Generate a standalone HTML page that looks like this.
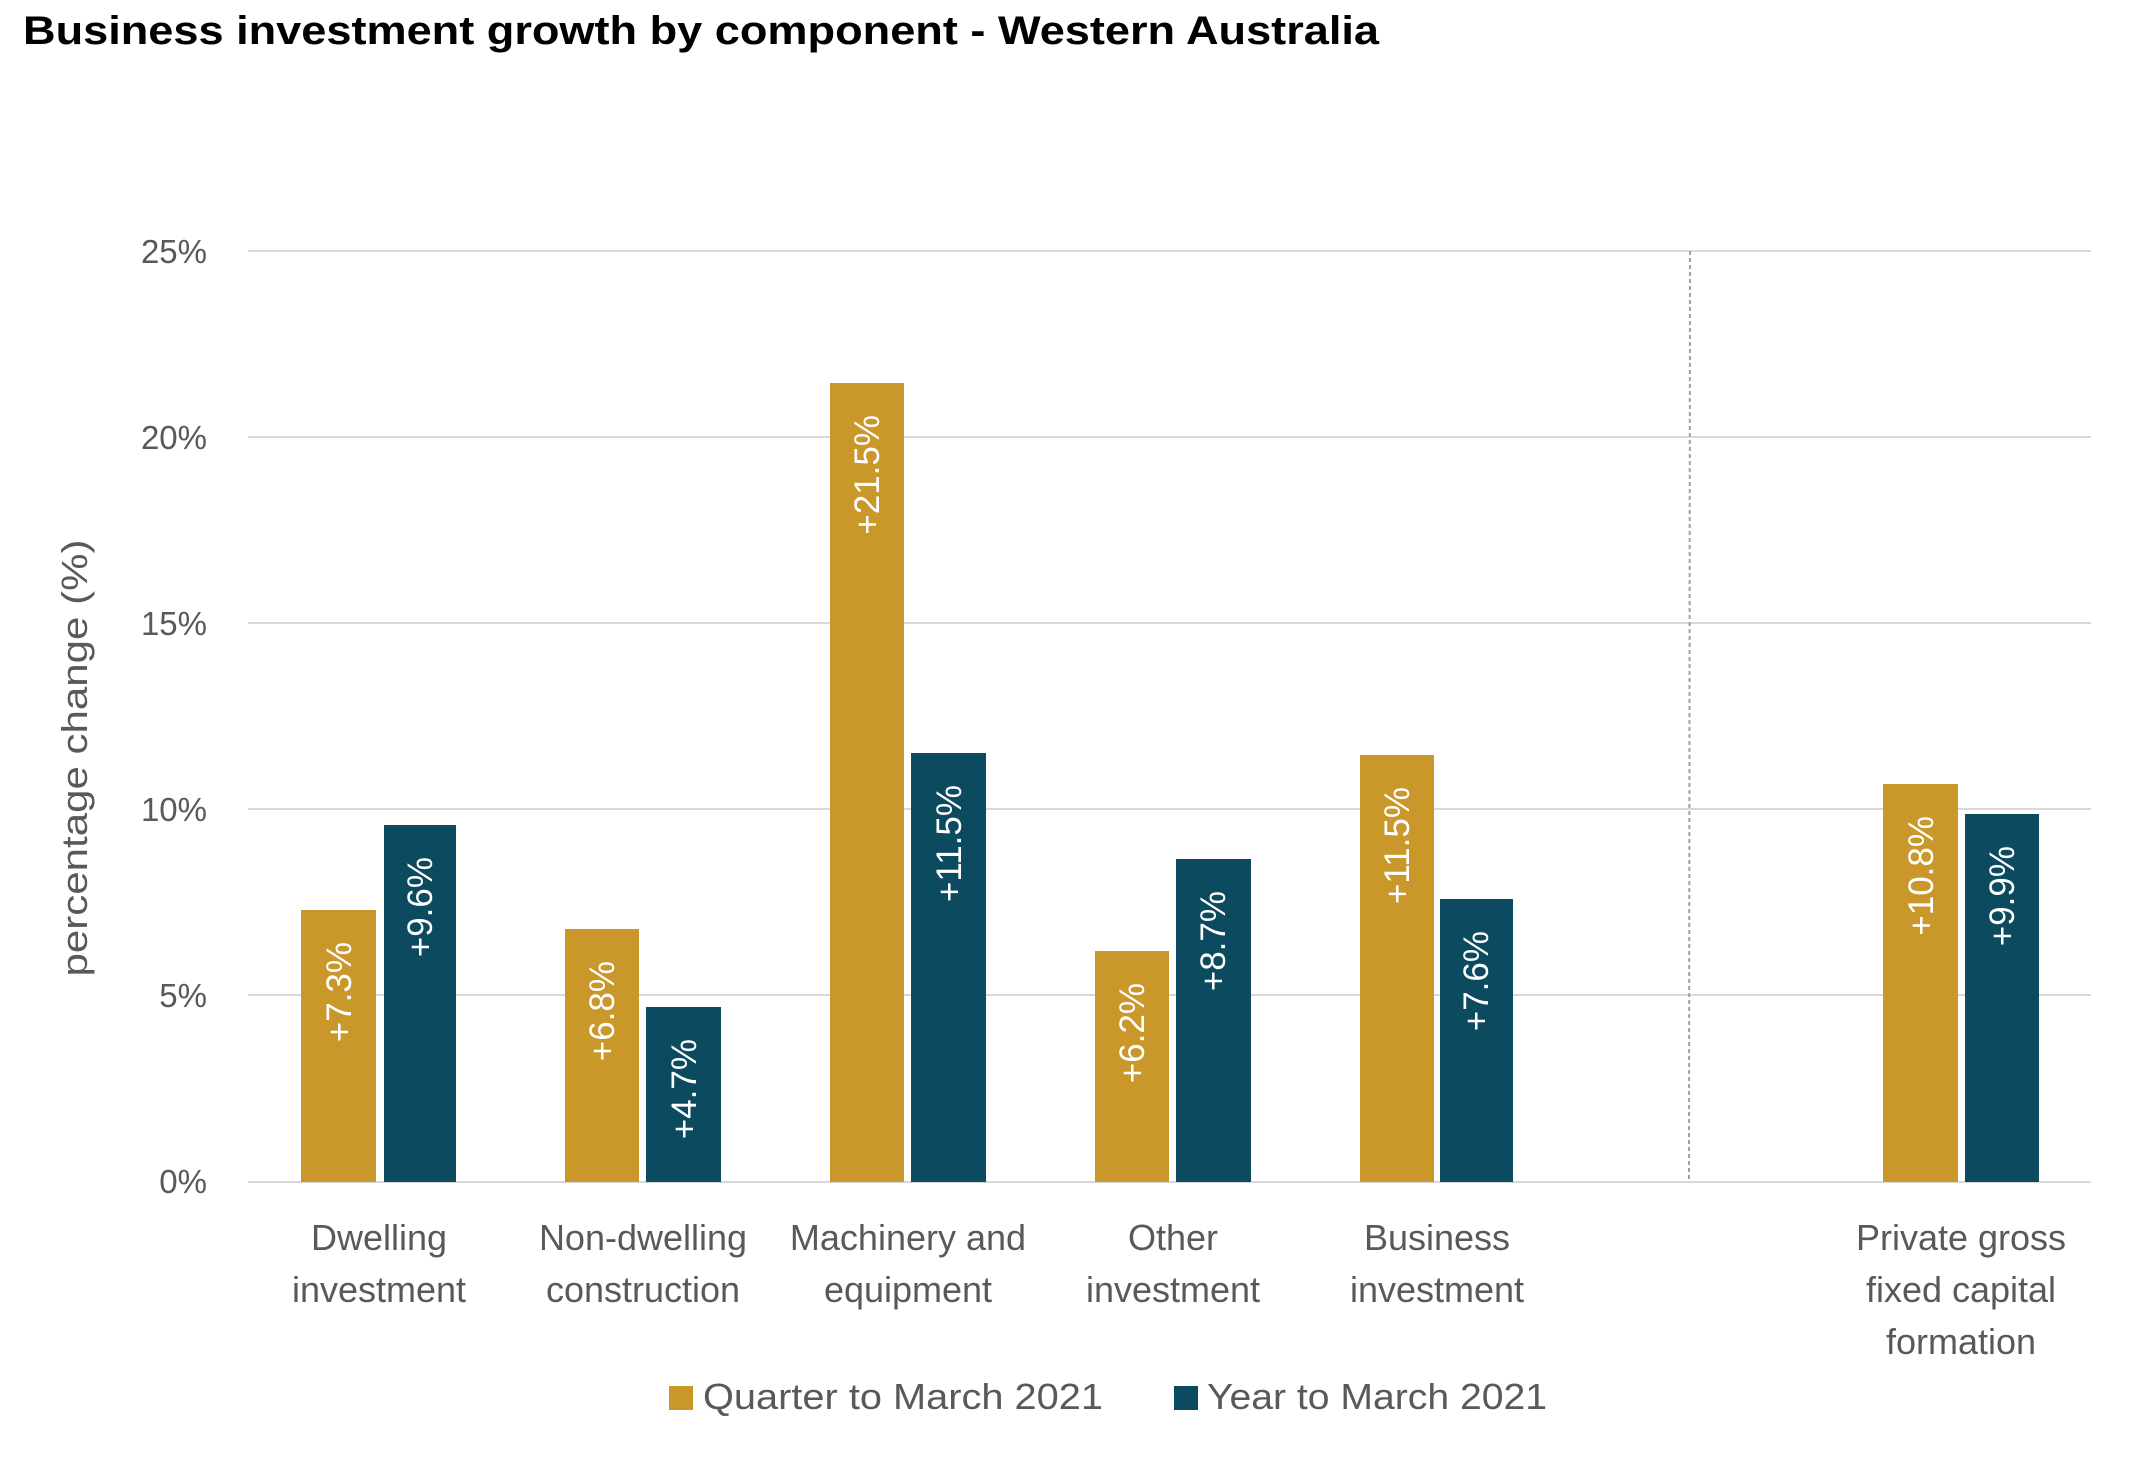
<!DOCTYPE html>
<html><head><meta charset="utf-8"><style>
html,body{margin:0;padding:0;background:#fff;}
svg{display:block;font-family:"Liberation Sans",sans-serif;}
</style></head><body>
<svg width="2132" height="1458" viewBox="0 0 2132 1458" xmlns="http://www.w3.org/2000/svg">
<rect width="2132" height="1458" fill="#fff"/>
<text x="23" y="44" font-size="40" font-weight="bold" fill="#000" textLength="1356" lengthAdjust="spacingAndGlyphs">Business investment growth by component - Western Australia</text>
<g stroke="#d9d9d9" stroke-width="2">
<line x1="248" y1="251" x2="2091" y2="251"/>
<line x1="248" y1="437" x2="2091" y2="437"/>
<line x1="248" y1="623" x2="2091" y2="623"/>
<line x1="248" y1="809" x2="2091" y2="809"/>
<line x1="248" y1="995" x2="2091" y2="995"/>
<line x1="248" y1="1182" x2="2091" y2="1182"/>
</g>
<line x1="1690" y1="251" x2="1689" y2="1182" stroke="#a0a0a0" stroke-width="2" stroke-dasharray="4,3"/>
<g font-size="33" fill="#595959" text-anchor="end">
<text x="207" y="263">25%</text>
<text x="207" y="449">20%</text>
<text x="207" y="635">15%</text>
<text x="207" y="821">10%</text>
<text x="207" y="1007">5%</text>
<text x="207" y="1193">0%</text>
</g>
<text transform="translate(87,758) rotate(-90)" font-size="36" fill="#595959" text-anchor="middle" textLength="437" lengthAdjust="spacingAndGlyphs">percentage change (%)</text>
<g fill="#C9972A">
<rect x="301" y="910" width="75" height="272"/>
<rect x="565" y="929" width="74" height="253"/>
<rect x="830" y="383" width="74" height="799"/>
<rect x="1095" y="951" width="74" height="231"/>
<rect x="1360" y="755" width="74" height="427"/>
<rect x="1883" y="784" width="75" height="398"/>
</g>
<g fill="#0B4A5F">
<rect x="384" y="825" width="72" height="357"/>
<rect x="646" y="1007" width="75" height="175"/>
<rect x="911" y="753" width="75" height="429"/>
<rect x="1176" y="859" width="75" height="323"/>
<rect x="1440" y="899" width="73" height="283"/>
<rect x="1965" y="814" width="74" height="368"/>
</g>
<g font-size="35" fill="#fff" text-anchor="end">
<text transform="translate(351,942) rotate(-90)">+7.3%</text>
<text transform="translate(432,857) rotate(-90)">+9.6%</text>
<text transform="translate(614,961) rotate(-90)">+6.8%</text>
<text transform="translate(696,1039) rotate(-90)">+4.7%</text>
<text transform="translate(879,415) rotate(-90)">+21.5%</text>
<text transform="translate(961,785) rotate(-90)">+11.5%</text>
<text transform="translate(1144,983) rotate(-90)">+6.2%</text>
<text transform="translate(1225,891) rotate(-90)">+8.7%</text>
<text transform="translate(1409,787) rotate(-90)">+11.5%</text>
<text transform="translate(1488,931) rotate(-90)">+7.6%</text>
<text transform="translate(1933,816) rotate(-90)">+10.8%</text>
<text transform="translate(2014,846) rotate(-90)">+9.9%</text>
</g>
<g font-size="36" fill="#595959" text-anchor="middle">
<text x="379" y="1250">Dwelling</text>
<text x="379" y="1302">investment</text>
<text x="643" y="1250">Non-dwelling</text>
<text x="643" y="1302">construction</text>
<text x="908" y="1250">Machinery and</text>
<text x="908" y="1302">equipment</text>
<text x="1173" y="1250">Other</text>
<text x="1173" y="1302">investment</text>
<text x="1437" y="1250">Business</text>
<text x="1437" y="1302">investment</text>
<text x="1961" y="1250">Private  gross</text>
<text x="1961" y="1302">fixed capital</text>
<text x="1961" y="1354">formation</text>
</g>
<rect x="669" y="1386" width="24" height="24" fill="#C9972A"/>
<text x="703" y="1409" font-size="36" fill="#595959" textLength="400" lengthAdjust="spacingAndGlyphs">Quarter to March 2021</text>
<rect x="1174" y="1386" width="24" height="24" fill="#0B4A5F"/>
<text x="1207" y="1409" font-size="36" fill="#595959" textLength="340" lengthAdjust="spacingAndGlyphs">Year to March 2021</text>
</svg>
</body></html>
